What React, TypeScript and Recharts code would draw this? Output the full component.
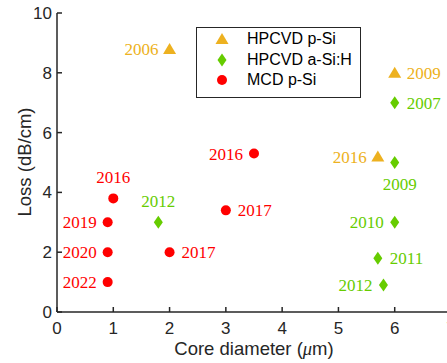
import React from "react";
import { Scatter, ScatterChart, XAxis, YAxis } from "recharts";

// HPCVD p-Si
const PSI_X = [2, 6, 5.7];
const PSI_Y = [8.8, 8.0, 5.2];
const PSI_YEAR = ["2006", "2009", "2016"];
const PSI_SIDE = ["left", "right", "left"];

// HPCVD a-Si:H
const ASI_X = [6, 6, 1.8, 6, 5.7, 5.8];
const ASI_Y = [7.0, 5.0, 3.0, 3.0, 1.8, 0.9];
const ASI_YEAR = ["2007", "2009", "2012", "2010", "2011", "2012"];
const ASI_SIDE = ["right", "bottom", "top", "left", "right", "left"];

// MCD p-Si
const MCD_X = [1.0, 0.9, 0.9, 0.9, 2.0, 3.0, 3.5];
const MCD_Y = [3.8, 3.0, 2.0, 1.0, 2.0, 3.4, 5.3];
const MCD_YEAR = ["2016", "2019", "2020", "2022", "2017", "2017", "2016"];
const MCD_SIDE = ["top", "left", "left", "left", "right", "right", "left"];

const X_TICKS = [0, 1, 2, 3, 4, 5, 6, 7];
const Y_TICKS = [0, 2, 4, 6, 8, 10];

const ORANGE = "#EDB120";
const GREEN = "#66CC00";
const RED = "#FF0000";
const AXIS = "#262626";
const SANS = "'Liberation Sans', Arial, Helvetica, sans-serif";
const SERIF = "'Liberation Serif', 'Times New Roman', serif";

const build = (xs: number[], ys: number[], years: string[], sides: string[]) =>
  xs.map((x, i) => ({ x, y: ys[i], year: years[i], side: sides[i] }));

const psiData = build(PSI_X, PSI_Y, PSI_YEAR, PSI_SIDE);
const asiData = build(ASI_X, ASI_Y, ASI_YEAR, ASI_SIDE);
const mcdData = build(MCD_X, MCD_Y, MCD_YEAR, MCD_SIDE);

function YearLabel({ cx, cy, text, side, color }: any) {
  let x = cx;
  let y = cy + 6;
  let anchor: "start" | "middle" | "end" = "middle";
  if (side === "left") {
    x = cx - 11;
    anchor = "end";
  } else if (side === "right") {
    x = cx + 12;
    anchor = "start";
  } else if (side === "top") {
    y = cy - 15;
  } else if (side === "bottom") {
    x = cx + 5;
    y = cy + 27;
  }
  return (
    <text x={x} y={y} textAnchor={anchor} fill={color} fontFamily={SERIF} fontSize={17}>
      {text}
    </text>
  );
}

const markerPath = (kind: string, cx: number, cy: number) => {
  if (kind === "triangle") {
    return `M${cx},${cy - 6}L${cx + 6.5},${cy + 5}L${cx - 6.5},${cy + 5}Z`;
  }
  return `M${cx},${cy - 6.5}L${cx + 4.5},${cy}L${cx},${cy + 6.5}L${cx - 4.5},${cy}Z`;
};

const makeShape = (kind: string, color: string) => (props: any) => {
  const { cx, cy, payload } = props;
  return (
    <g>
      {kind === "circle" ? (
        <circle cx={cx} cy={cy} r={5} fill={color} />
      ) : (
        <path d={markerPath(kind, cx, cy)} fill={color} />
      )}
      <YearLabel cx={cx} cy={cy} text={payload.year} side={payload.side} color={color} />
    </g>
  );
};

const tickStyle = { fill: AXIS, fontSize: 17, fontFamily: SANS };
const axisLine = { stroke: AXIS, strokeWidth: 1.5 };

function LegendMarker({ kind, color }: { kind: string; color: string }) {
  return (
    <svg width={14} height={14} style={{ display: "block" }}>
      {kind === "circle" ? (
        <circle cx={7} cy={7} r={5} fill={color} />
      ) : (
        <path d={markerPath(kind, 7, 7)} fill={color} />
      )}
    </svg>
  );
}

const LEGEND = [
  { kind: "triangle", color: ORANGE, name: "HPCVD p-Si" },
  { kind: "diamond", color: GREEN, name: "HPCVD a-Si:H" },
  { kind: "circle", color: RED, name: "MCD p-Si" }
];

export default function App() {
  return (
    <div
      style={{
        position: "absolute",
        left: 0,
        top: 0,
        width: 447,
        height: 363,
        overflow: "hidden",
        background: "#fff"
      }}
    >
      <ScatterChart width={460} height={363} margin={{ top: 13, right: 9, bottom: 0, left: 0 }}>
        <XAxis
          type="number"
          dataKey="x"
          domain={[0, 7]}
          ticks={X_TICKS}
          height={51}
          axisLine={axisLine}
          tickLine={axisLine}
          tickSize={-5}
          tickMargin={15}
          tick={tickStyle}
          label={{
            content: (p: any) => {
              const vb = p.viewBox || { x: 57, y: 312, width: 394, height: 51 };
              return (
                <text
                  x={vb.x + vb.width / 2}
                  y={355}
                  textAnchor="middle"
                  fill={AXIS}
                  fontFamily={SANS}
                  fontSize={18.5}
                >
                  Core diameter (
                  <tspan fontFamily={SERIF} fontStyle="italic">
                    μ
                  </tspan>
                  m)
                </text>
              );
            }
          }}
        />
        <XAxis
          xAxisId="top"
          orientation="top"
          type="number"
          domain={[0, 7]}
          ticks={X_TICKS}
          height={0}
          axisLine={axisLine}
          tickLine={axisLine}
          tickSize={-5}
          tickFormatter={() => ""}
        />
        <YAxis
          type="number"
          dataKey="y"
          domain={[0, 10]}
          ticks={Y_TICKS}
          width={57}
          axisLine={axisLine}
          tickLine={axisLine}
          tickSize={-5}
          tickMargin={10}
          tick={tickStyle}
          label={{
            content: () => (
              <text
                x={24}
                y={162}
                transform="rotate(-90 24 162)"
                textAnchor="middle"
                dominantBaseline="central"
                fill={AXIS}
                fontFamily={SANS}
                fontSize={18.5}
              >
                Loss (dB/cm)
              </text>
            )
          }}
        />
        <YAxis
          yAxisId="right"
          orientation="right"
          type="number"
          domain={[0, 10]}
          ticks={Y_TICKS}
          width={0}
          axisLine={axisLine}
          tickLine={axisLine}
          tickSize={-5}
          tickFormatter={() => ""}
        />
        <Scatter
          name="HPCVD p-Si"
          data={psiData}
          shape={makeShape("triangle", ORANGE)}
          isAnimationActive={false}
        />
        <Scatter
          name="HPCVD a-Si:H"
          data={asiData}
          shape={makeShape("diamond", GREEN)}
          isAnimationActive={false}
        />
        <Scatter
          name="MCD p-Si"
          data={mcdData}
          shape={makeShape("circle", RED)}
          isAnimationActive={false}
        />
      </ScatterChart>
      <div
        style={{
          position: "absolute",
          left: 196,
          top: 27,
          width: 163,
          height: 68,
          border: `1.5px solid ${AXIS}`,
          background: "#fff",
          boxSizing: "content-box",
          paddingTop: 1
        }}
      >
        {LEGEND.map((item) => (
          <div key={item.name} style={{ display: "flex", alignItems: "center", height: 20.5 }}>
            <div style={{ width: 18 }} />
            <LegendMarker kind={item.kind} color={item.color} />
            <span
              style={{
                marginLeft: 18,
                fontFamily: SANS,
                fontSize: 16,
                color: "#000",
                whiteSpace: "nowrap"
              }}
            >
              {item.name}
            </span>
          </div>
        ))}
      </div>
    </div>
  );
}
